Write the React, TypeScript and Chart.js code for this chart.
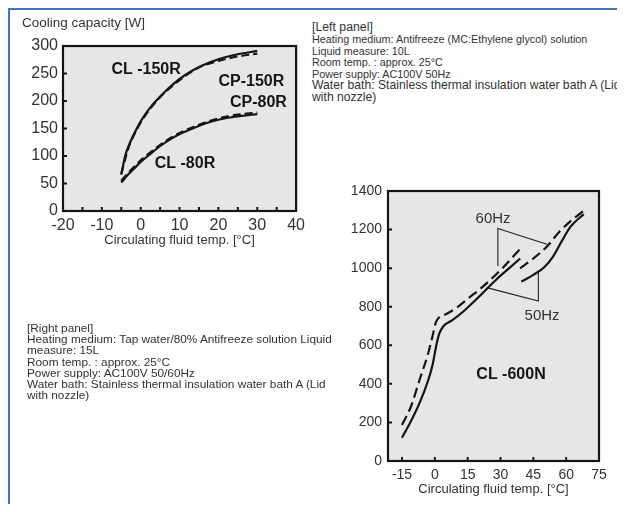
import React, { useEffect, useRef } from "react";
import { Chart, registerables } from "chart.js";

Chart.register(...registerables);

const FONT = '"Liberation Sans", Arial, Helvetica, sans-serif';

// ---------- Left panel data ----------
const leftXTicks = [-20, -15, -10, -5, 0, 5, 10, 15, 20, 25, 30, 35, 40];
const leftXLabels = [-20, -10, 0, 10, 20, 30, 40];
const leftYTicks = [0, 50, 100, 150, 200, 250, 300];

const cl150rX = [-5, -4, -3, -2, -1, 0, 1, 2, 3, 5, 7, 10, 13, 16, 20, 25, 30];
const cl150rY = [66, 100, 120, 136, 150, 163, 174, 184, 193, 208, 222, 240, 254, 265, 276, 285, 291];
const cp150rX = [-5, -3, -1, 0, 2, 5, 10, 15, 20, 25, 30];
const cp150rY = [68, 118, 148, 161, 182, 207, 238, 261, 273, 281, 286];
const cl80rX = [-5, -3, -1, 0, 2, 5, 8, 11, 14, 17, 20, 23, 26, 30];
const cl80rY = [52, 68, 82, 89, 101, 118, 132, 143, 152, 160, 166, 170, 173, 176];
const cp80rX = [-5, -3, -1, 0, 2, 5, 8, 11, 14, 17, 20, 23, 26, 30];
const cp80rY = [55, 71, 85, 92, 104, 120, 134, 145, 154, 162, 168, 173, 176, 179];

// ---------- Right panel data ----------
const rightXTicks = [-15, 0, 15, 30, 45, 60, 75];
const rightYTicks = [0, 200, 400, 600, 800, 1000, 1200, 1400];

const hz50LowX = [-15, -11, -7, -3, -1, 0.5, 2, 4, 8, 13, 20, 28, 34, 39];
const hz50LowY = [121, 205, 300, 420, 500, 590, 660, 700, 730, 775, 850, 940, 1000, 1050];
const hz60LowX = [-15, -11, -7, -3, -1, 0.5, 2, 4, 10, 16, 21, 30, 39];
const hz60LowY = [187, 280, 420, 560, 650, 720, 745, 755, 795, 850, 895, 990, 1100];
const hz50HighX = [39.5, 45, 50, 54, 58, 62, 68];
const hz50HighY = [930, 965, 1005, 1060, 1140, 1215, 1280];
const hz60HighX = [39, 45, 51, 57, 62.5, 68];
const hz60HighY = [999, 1050, 1110, 1190, 1248, 1298];

const hz60PointerX = [28.8, 28.8, 51.2];
const hz60PointerY = [1011, 1206, 1124];
const hz50PointerX = [23.7, 47.3, 47.3];
const hz50PointerY = [899, 829, 977];

const leftPanelTitle = "[Left panel]";
const leftPanelNarrowLines = [
  "Heating medium: Antifreeze (MC:Ethylene glycol) solution",
  "Liquid measure: 10L",
  "Room temp. : approx. 25°C",
  "Power supply: AC100V 50Hz",
];
const leftPanelWideLines = [
  "Water bath: Stainless thermal insulation water bath A (Lid",
  "with nozzle)",
];
const rightPanelLines = [
  "[Right panel]",
  "Heating medium: Tap water/80% Antifreeze solution Liquid",
  "measure: 15L",
  "Room temp. : approx. 25°C",
  "Power supply: AC100V 50/60Hz",
  "Water bath: Stainless thermal insulation water bath A (Lid",
  "with nozzle)",
];

const INK = "#151515";
const TEXT = "#333333";

function pts(xs: number[], ys: number[]) {
  return xs.map((x, i) => ({ x, y: ys[i] }));
}

function curve(xs: number[], ys: number[], dash: number[], width = 2.2) {
  return {
    data: pts(xs, ys),
    borderColor: INK,
    borderWidth: width,
    borderDash: dash,
    pointRadius: 0,
    cubicInterpolationMode: "monotone" as const,
    fill: false,
  };
}

function pointer(xs: number[], ys: number[]) {
  return {
    data: pts(xs, ys),
    borderColor: "#222",
    borderWidth: 1.1,
    pointRadius: 0,
    tension: 0,
    fill: false,
  };
}

const panelPlugin = {
  id: "panel",
  beforeDatasetsDraw(chart: any, _a: any, opts: any) {
    const { ctx, chartArea: a } = chart;
    ctx.save();
    ctx.fillStyle = opts.bg;
    ctx.fillRect(a.left, a.top, a.right - a.left, a.bottom - a.top);
    ctx.restore();
  },
  afterDatasetsDraw(chart: any, _a: any, opts: any) {
    const { ctx, chartArea: a, scales } = chart;
    const x = scales.x;
    const y = scales.y;
    ctx.save();
    ctx.strokeStyle = INK;
    ctx.lineWidth = 2;
    ctx.beginPath();
    x.ticks.forEach((t: any) => {
      const p = x.getPixelForValue(t.value);
      if (p > a.left + 3 && p < a.right - 3) {
        ctx.moveTo(p, a.bottom);
        ctx.lineTo(p, a.bottom - opts.tick);
      }
    });
    y.ticks.forEach((t: any) => {
      const p = y.getPixelForValue(t.value);
      if (p > a.top + 3 && p < a.bottom - 3) {
        ctx.moveTo(a.left, p);
        ctx.lineTo(a.left + opts.tick, p);
      }
    });
    ctx.stroke();
    ctx.lineWidth = opts.frame;
    ctx.strokeRect(a.left, a.top, a.right - a.left, a.bottom - a.top);
    (opts.labels || []).forEach((l: any) => {
      ctx.font = l.font;
      ctx.fillStyle = l.color;
      ctx.textAlign = "center";
      ctx.textBaseline = "middle";
      ctx.fillText(l.text, x.getPixelForValue(l.x), y.getPixelForValue(l.y));
    });
    ctx.restore();
  },
};

function ChartCanvas({ config, width, height, left, top }: any) {
  const ref = useRef<HTMLCanvasElement | null>(null);
  useEffect(() => {
    if (!ref.current) return;
    const chart = new Chart(ref.current, config());
    return () => chart.destroy();
  }, []);
  return (
    <canvas
      ref={ref}
      width={width}
      height={height}
      style={{ position: "absolute", left, top, width, height }}
    />
  );
}

function leftConfig(): any {
  return {
    type: "line",
    data: {
      datasets: [
        curve(cp150rX, cp150rY, [8, 4]),
        curve(cl150rX, cl150rY, []),
        curve(cp80rX, cp80rY, [8, 4]),
        curve(cl80rX, cl80rY, []),
      ],
    },
    options: {
      animation: false,
      responsive: false,
      events: [],
      layout: { padding: { top: 36, right: 12, left: 0, bottom: 0 } },
      plugins: {
        legend: { display: false },
        tooltip: { enabled: false },
        panel: {
          bg: "#e6e6e6",
          tick: 4,
          frame: 2.2,
          labels: [
            { text: "CL -150R", x: 1.4, y: 258, font: `bold 16px ${FONT}`, color: INK },
            { text: "CP-150R", x: 28.5, y: 236, font: `bold 16px ${FONT}`, color: INK },
            { text: "CP-80R", x: 30.3, y: 197, font: `bold 16px ${FONT}`, color: INK },
            { text: "CL -80R", x: 11.4, y: 86, font: `bold 16px ${FONT}`, color: INK },
          ],
        },
      },
      scales: {
        x: {
          type: "linear",
          min: leftXTicks[0],
          max: leftXTicks[leftXTicks.length - 1],
          afterBuildTicks: (s: any) => {
            s.ticks = leftXTicks.map((value) => ({ value }));
          },
          afterFit: (s: any) => {
            s.height = 39;
          },
          grid: { display: false, drawTicks: false },
          border: { display: false },
          ticks: {
            padding: 5,
            color: TEXT,
            autoSkip: false,
            maxRotation: 0,
            font: { family: FONT, size: 16 },
            callback: (v: number) => (leftXLabels.includes(v) ? String(v) : ""),
          },
          title: {
            display: true,
            text: "Circulating fluid temp. [°C]",
            color: TEXT,
            font: { family: FONT, size: 13 },
            padding: { top: 0, bottom: 1.5 },
          },
        },
        y: {
          type: "linear",
          min: leftYTicks[0],
          max: leftYTicks[leftYTicks.length - 1],
          afterBuildTicks: (s: any) => {
            s.ticks = leftYTicks.map((value) => ({ value }));
          },
          afterFit: (s: any) => {
            s.width = 53;
          },
          grid: { display: false, drawTicks: false },
          border: { display: false },
          ticks: {
            padding: 5,
            color: TEXT,
            font: { family: FONT, size: 16 },
            callback: (v: number) => String(v),
          },
        },
      },
    },
    plugins: [panelPlugin],
  };
}

function rightConfig(): any {
  return {
    type: "line",
    data: {
      datasets: [
        curve(hz60LowX, hz60LowY, [10, 5]),
        curve(hz50LowX, hz50LowY, []),
        curve(hz60HighX, hz60HighY, [10, 5]),
        curve(hz50HighX, hz50HighY, []),
        pointer(hz60PointerX, hz60PointerY),
        pointer(hz50PointerX, hz50PointerY),
      ],
    },
    options: {
      animation: false,
      responsive: false,
      events: [],
      layout: { padding: { top: 21, right: 16, left: 0, bottom: 0 } },
      plugins: {
        legend: { display: false },
        tooltip: { enabled: false },
        panel: {
          bg: "#e6e6e6",
          tick: 4,
          frame: 2.2,
          labels: [
            { text: "60Hz", x: 26.6, y: 1254, font: `15px ${FONT}`, color: TEXT },
            { text: "50Hz", x: 49, y: 755, font: `15px ${FONT}`, color: TEXT },
            { text: "CL -600N", x: 34.8, y: 448, font: `bold 16px ${FONT}`, color: INK },
          ],
        },
      },
      scales: {
        x: {
          type: "linear",
          min: -21.4,
          max: 75,
          afterBuildTicks: (s: any) => {
            s.ticks = rightXTicks.map((value) => ({ value }));
          },
          afterFit: (s: any) => {
            s.height = 42;
          },
          grid: { display: false, drawTicks: false },
          border: { display: false },
          ticks: {
            padding: 6,
            color: TEXT,
            autoSkip: false,
            maxRotation: 0,
            font: { family: FONT, size: 14 },
            callback: (v: number) => String(v),
          },
          title: {
            display: true,
            text: "Circulating fluid temp. [°C]",
            color: TEXT,
            font: { family: FONT, size: 13 },
            padding: { top: 0, bottom: 6 },
          },
        },
        y: {
          type: "linear",
          min: rightYTicks[0],
          max: rightYTicks[rightYTicks.length - 1],
          afterBuildTicks: (s: any) => {
            s.ticks = rightYTicks.map((value) => ({ value }));
          },
          afterFit: (s: any) => {
            s.width = 58;
          },
          grid: { display: false, drawTicks: false },
          border: { display: false },
          ticks: {
            padding: 6,
            color: TEXT,
            font: { family: FONT, size: 14 },
            callback: (v: number) => String(v),
          },
        },
      },
    },
    plugins: [panelPlugin],
  };
}

export default function App() {
  return (
    <div
      style={{
        position: "relative",
        width: 617,
        height: 496,
        boxSizing: "border-box",
        borderTop: "2px solid #4472c4",
        borderLeft: "2px solid #4472c4",
        overflow: "hidden",
        fontFamily: FONT,
        color: TEXT,
      }}
    >
      <ChartCanvas config={leftConfig} width={300} height={240} left={0} top={0} />
      <ChartCanvas config={rightConfig} width={285} height={333} left={320} top={160} />

      <div
        style={{
          position: "absolute",
          left: 12,
          top: 5,
          fontSize: 13.5,
          lineHeight: "16px",
          whiteSpace: "nowrap",
        }}
      >
        Cooling capacity [W]
      </div>

      <div style={{ position: "absolute", left: 302, top: 10, whiteSpace: "nowrap" }}>
        <div style={{ fontSize: 12.3, lineHeight: "14px" }}>{leftPanelTitle}</div>
        <div style={{ transform: "scaleX(0.915)", transformOrigin: "0 0" }}>
          {leftPanelNarrowLines.map((t, i) => (
            <div key={i} style={{ fontSize: 11.8, lineHeight: "11.5px" }}>
              {t}
            </div>
          ))}
        </div>
        {leftPanelWideLines.map((t, i) => (
          <div key={i} style={{ fontSize: 12.2, lineHeight: "11.5px" }}>
            {t}
          </div>
        ))}
      </div>

      <div
        style={{
          position: "absolute",
          left: 17,
          top: 313,
          whiteSpace: "nowrap",
        }}
      >
        {rightPanelLines.map((t, i) => (
          <div key={i} style={{ fontSize: 11.8, lineHeight: "11.2px" }}>
            {t}
          </div>
        ))}
      </div>
    </div>
  );
}
